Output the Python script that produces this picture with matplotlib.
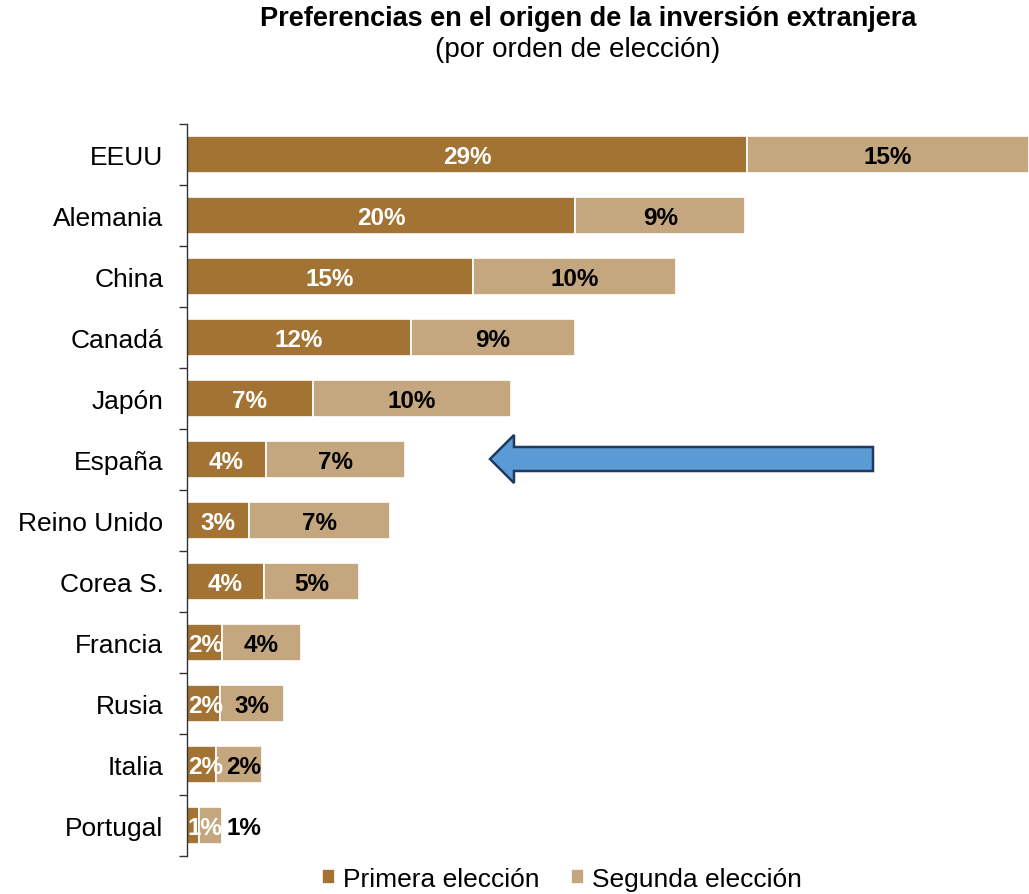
import matplotlib
matplotlib.use("Agg")
import matplotlib.pyplot as plt
from matplotlib.patches import Polygon
import numpy as np

plt.rcParams['font.family'] = ['Liberation Sans', 'DejaVu Sans']

categories = ["EEUU", "Alemania", "China", "Canadá", "Japón", "España",
              "Reino Unido", "Corea S.", "Francia", "Rusia", "Italia", "Portugal"]
primera = [29.0, 20.1, 14.8, 11.6, 6.5, 4.1, 3.2, 4.0, 1.8, 1.7, 1.5, 0.6]
segunda = [14.6, 8.8, 10.5, 8.5, 10.3, 7.2, 7.3, 4.9, 4.1, 3.3, 2.4, 1.2]
label_primera = ["29%", "20%", "15%", "12%", "7%", "4%", "3%", "4%", "2%", "2%", "2%", "1%"]
label_segunda = ["15%", "9%", "10%", "9%", "10%", "7%", "7%", "5%", "4%", "3%", "2%", "1%"]

c1 = "#A37334"
c2 = "#C4A67F"

W, H = 1029, 895
fig = plt.figure(figsize=(W / 100, H / 100), dpi=100)
ax = fig.add_axes([187 / W, 1 - 857 / H, (W - 187) / W, (857 - 125) / H])

n = len(categories)
y = np.arange(n)
bh = 0.6
ax.barh(y, primera, height=bh, color=c1, edgecolor="white", linewidth=1.2, label="Primera elección")
ax.barh(y, segunda, left=primera, height=bh, color=c2, edgecolor="white", linewidth=1.2, label="Segunda elección")

ax.set_ylim(n - 0.5, -0.5)
ax.set_xlim(0, 43.6)

for i in range(n):
    p, s = primera[i], segunda[i]
    xp = p / 2
    xs = p + s / 2
    if p < 2.5:
        xp = max(p / 2, 0.95)
        xs = max(xs, xp + 2.0)
    ax.text(xp, i + 0.03, label_primera[i], ha="center", va="center", color="white",
            fontsize=17.5, fontweight="bold")
    ax.text(xs, i + 0.03, label_segunda[i], ha="center", va="center", color="black",
            fontsize=17.5, fontweight="bold")

ax.set_yticks(y)
ax.set_yticklabels(categories, fontsize=19)
ax.tick_params(axis="y", which="major", length=0, pad=17)
ax.set_yticks(np.arange(-0.5, n, 1), minor=True)
ax.tick_params(axis="y", which="minor", length=6, width=1, color="#333333", direction="out")
ax.set_xticks([])
for sp in ["top", "right", "bottom"]:
    ax.spines[sp].set_visible(False)
ax.spines["left"].set_color("#333333")
ax.spines["left"].set_linewidth(1)

fig.text(588 / W, 1 - 19 / H, "Preferencias en el origen de la inversión extranjera",
         ha="center", va="center", fontsize=19.5, fontweight="bold")
fig.text(578 / W, 1 - 50 / H, "(por orden de elección)",
         ha="center", va="center", fontsize=20)

def fx(px):
    return px / W
def fy(py):
    return 1 - py / H
arrow_pts = [(873, 448), (514, 448), (514, 436), (490, 460), (514, 484), (514, 472), (873, 472)]
poly = Polygon([(fx(a), fy(b)) for a, b in arrow_pts], closed=True,
               transform=fig.transFigure, facecolor="#5B9BD5", edgecolor="#1F3A5F", linewidth=1.8)
fig.patches.append(poly)

leg = fig.legend(loc="center", bbox_to_anchor=(562 / W, 1 - 880 / H), ncol=2, frameon=False,
                 fontsize=19, handlelength=0.5, handleheight=0.5, handletextpad=0.3,
                 columnspacing=1.2)

fig.savefig("out.png", dpi=100)
